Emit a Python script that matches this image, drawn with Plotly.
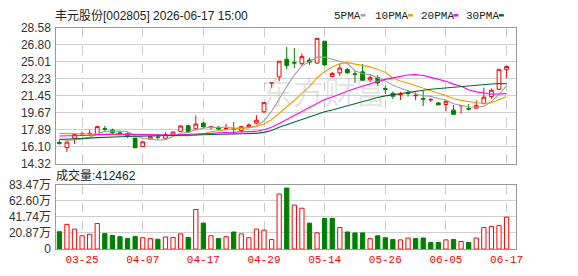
import plotly.graph_objects as go
import pandas as pd
import numpy as np

dates = ["03-20", "03-23", "03-24", "03-25", "03-26", "03-27", "03-30", "03-31", "04-01", "04-02",
         "04-03", "04-07", "04-08", "04-09", "04-10", "04-13", "04-14", "04-15", "04-16", "04-17",
         "04-20", "04-21", "04-22", "04-23", "04-24", "04-27", "04-28", "04-29", "04-30", "05-06",
         "05-07", "05-08", "05-11", "05-12", "05-13", "05-14", "05-15", "05-18", "05-19", "05-20",
         "05-21", "05-22", "05-25", "05-26", "05-27", "05-28", "05-29", "06-01", "06-02", "06-03",
         "06-04", "06-05", "06-08", "06-09", "06-10", "06-11", "06-12", "06-15", "06-16", "06-17"]

open_ = [16.55, 16.00, 16.98, 17.45, 17.45, 17.38, 18.00, 17.85, 17.55, 17.45,
         17.00, 16.12, 16.88, 17.12, 16.98, 17.31, 17.71, 18.31, 17.98, 18.58,
         18.10, 18.15, 17.95, 17.98, 17.81, 18.20, 18.58, 19.77, 22.80, 23.43,
         25.29, 24.95, 24.82, 25.20, 24.89, 27.18, 23.46, 23.86, 24.22, 23.75,
         23.96, 23.13, 23.36, 22.20, 21.70, 21.55, 21.75, 21.45, 21.15, 21.02,
         20.70, 20.53, 19.94, 20.40, 20.10, 20.14, 20.63, 21.37, 22.13, 24.19]
high = [16.75, 16.60, 17.40, 17.68, 17.88, 18.30, 18.28, 18.00, 17.81, 17.60,
        17.02, 16.65, 17.20, 17.46, 17.60, 17.70, 18.35, 18.40, 19.38, 18.70,
        18.30, 18.25, 18.50, 18.70, 18.25, 18.55, 19.41, 20.78, 22.80, 25.10,
        26.56, 26.46, 25.89, 25.46, 27.48, 27.20, 23.95, 24.79, 24.35, 24.12,
        24.79, 23.62, 23.62, 22.47, 21.90, 21.85, 22.07, 21.80, 21.97, 21.20,
        20.80, 20.90, 20.47, 20.42, 20.60, 20.97, 22.30, 22.20, 24.23, 24.60]
low = [16.30, 15.55, 16.41, 17.25, 17.25, 17.35, 17.74, 17.45, 17.28, 17.00,
       15.95, 16.10, 16.80, 16.80, 16.90, 17.28, 17.70, 17.60, 17.80, 18.10,
       17.90, 17.85, 17.85, 17.50, 17.60, 18.10, 18.45, 19.64, 22.30, 22.97,
       24.22, 24.36, 24.62, 24.69, 24.80, 24.60, 23.40, 23.52, 23.76, 22.80,
       23.00, 22.87, 22.48, 21.63, 21.10, 21.00, 21.37, 20.97, 20.37, 20.80,
       20.45, 19.80, 19.41, 19.58, 19.90, 20.10, 20.55, 21.13, 22.05, 23.30]
close = [16.45, 16.58, 17.38, 17.48, 17.50, 18.21, 17.95, 17.60, 17.50, 17.20,
         15.99, 16.61, 17.15, 17.08, 17.38, 17.64, 18.28, 17.64, 18.48, 18.18,
         18.20, 17.95, 18.00, 17.93, 18.21, 18.38, 18.88, 20.73, 22.80, 25.08,
         24.62, 24.89, 25.56, 24.98, 27.48, 24.69, 23.79, 24.36, 23.86, 23.70,
         23.07, 23.36, 22.80, 22.13, 21.40, 21.58, 21.70, 21.50, 21.10, 21.05,
         20.50, 20.87, 19.50, 20.42, 20.05, 20.41, 21.30, 22.03, 24.23, 24.52]
volume = [224600, 319000, 258000, 172000, 192000, 331000, 200000, 176000, 160000, 135000,
          164000, 147000, 135000, 127000, 156000, 151000, 196000, 151000, 512000, 335000,
          172000, 135000, 160000, 221000, 196000, 147000, 258000, 245000, 123000, 712000,
          789000, 568000, 528000, 335000, 209000, 397000, 397000, 278000, 221000, 209000,
          209000, 135000, 172000, 147000, 123000, 119000, 143000, 135000, 143000, 86000,
          86000, 119000, 123000, 98000, 86000, 143000, 278000, 291000, 303000, 412462]

ma5_head = [16.90, 16.75, 16.80, 16.95]
ma10_head = [17.50, 17.50, 17.48, 17.45, 17.42, 17.40, 17.38, 17.38, 17.37]
ma20_head = [17.22, 17.22, 17.25, 17.28, 17.30, 17.35, 17.40, 17.42, 17.42, 17.40,
             17.35, 17.33, 17.32, 17.30, 17.30, 17.32, 17.35, 17.37, 17.39]
ma30_head = [16.86, 16.88, 16.92, 16.96, 17.00, 17.05, 17.10, 17.13, 17.15, 17.17,
             17.18, 17.20, 17.20, 17.20, 17.22, 17.22, 17.25, 17.28, 17.32, 17.36,
             17.40, 17.42, 17.44, 17.45, 17.46, 17.48, 17.50, 17.60, 17.80]

tick_dates = ["03-25", "04-07", "04-17", "04-29", "05-14", "05-26", "06-05", "06-17"]
price_ticks = [14.32, 16.10, 17.89, 19.67, 21.45, 23.23, 25.01, 26.80, 28.58]
vol_ticks = [0, 208675, 417350, 626025, 834700]
vol_ticktext = ["0", "20.87万", "41.74万", "62.60万", "83.47万"]

W, H = 578, 276
RED = "#ff0000"
GREEN = "#008000"

cs = pd.Series(close)
def ma(n, head):
    v = cs.rolling(n).mean().to_numpy()
    v[:n - 1] = head
    return v

mas = [("5PMA", ma(5, ma5_head), "#a0a0a0"),
       ("10PMA", ma(10, ma10_head), "#f0a000"),
       ("20PMA", ma(20, ma20_head), "#ff00ff"),
       ("30PMA", ma(30, ma30_head), "#006a30")]

prev = [open_[0]] + close[:-1]
vol_up = [c >= p for c, p in zip(close, prev)]

fig = go.Figure()
fig.add_trace(go.Candlestick(
    x=dates, open=open_, high=high, low=low, close=close,
    xaxis="x", yaxis="y", whiskerwidth=0,
    increasing=dict(line=dict(color=RED, width=1), fillcolor="#ffffff"),
    decreasing=dict(line=dict(color=GREEN, width=1), fillcolor=GREEN),
    showlegend=False, hoverinfo="skip"))
for name, vals, col in mas:
    fig.add_trace(go.Scatter(x=dates, y=vals, mode="lines", line=dict(color=col, width=1.1),
                             xaxis="x", yaxis="y", showlegend=False, hoverinfo="skip"))

fig.add_trace(go.Bar(
    x=dates, y=volume, xaxis="x2", yaxis="y2", width=0.56,
    marker=dict(color=["#ffffff" if u else GREEN for u in vol_up],
                line=dict(color=[RED if u else GREEN for u in vol_up], width=1)),
    showlegend=False, hoverinfo="skip"))

x0, x1 = 57, 522
xd = [x0 / W, x1 / W]
def yd(top, bot):
    return [1 - bot / H, 1 - top / H]

xcommon = dict(type="category", categoryorder="array", categoryarray=dates,
               range=[-0.4, 60.2], domain=xd, tickvals=tick_dates,
               showgrid=True, gridcolor="#cccccc", griddash="dash", gridwidth=1,
               showline=True, mirror=True, linecolor="#999999", linewidth=1,
               ticks="", zeroline=False, fixedrange=True)

fig.update_layout(
    width=W, height=H, margin=dict(l=0, r=0, t=0, b=0),
    paper_bgcolor="white", plot_bgcolor="white", showlegend=False,
    font=dict(family="Liberation Sans, Noto Sans CJK SC", size=12, color="#333333"),
    xaxis=dict(**xcommon, anchor="y", showticklabels=False, rangeslider=dict(visible=False)),
    xaxis2=dict(**xcommon, anchor="y2", showticklabels=True,
                tickfont=dict(family="Liberation Mono", size=11, color=RED)),
    yaxis=dict(domain=yd(22, 165), range=[14.32, 28.58], tickvals=price_ticks,
               ticktext=[f"{v:.2f}" for v in price_ticks],
               showgrid=True, gridcolor="#d0d0d0", showline=True, mirror=True,
               linecolor="#999999", ticks="", zeroline=False, anchor="x",
               tickfont=dict(size=12, color="#333333"), ticklabelstandoff=2),
    yaxis2=dict(domain=yd(187, 255), range=[0, 834700], tickvals=vol_ticks,
                ticktext=vol_ticktext,
                showgrid=True, gridcolor="#d0d0d0", showline=True, mirror=True,
                linecolor="#999999", ticks="", zeroline=False, anchor="x2",
                tickfont=dict(size=12, color="#333333"), ticklabelstandoff=2),
)

def ann(text, px, py, size=12, color="#222222", family=None, xanchor="left"):
    f = dict(size=size, color=color)
    if family:
        f["family"] = family
    fig.add_annotation(text=text, x=px / W, y=1 - py / H, xref="paper", yref="paper",
                       xanchor=xanchor, yanchor="middle", showarrow=False, font=f)

# watermark
ann("东方财富", 328, 88, size=31, color="rgba(160,160,160,0.28)",
    family="Noto Sans CJK SC", xanchor="center")

ann("丰元股份[002805] 2026-06-17 15:00", 54, 9, size=12)
ann("成交量:412462", 55, 177, size=12)

leg_x = [(338, 365), (380, 413), (426, 459), (472, 505)]
for (name, _, col), (tx, mx) in zip(mas, leg_x):
    ann(name, tx - 2, 9, size=11, family="Liberation Mono")
    fig.add_shape(type="rect", xref="paper", yref="paper",
                  x0=mx / W, x1=(mx + 5) / W, y0=1 - 10 / H, y1=1 - 7.5 / H,
                  fillcolor=col, line=dict(width=0))

fig.write_html("out.html")
